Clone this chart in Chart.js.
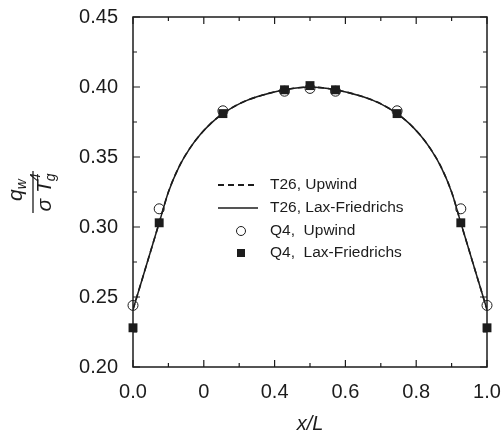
<!DOCTYPE html>
<html>
<head>
<meta charset="utf-8">
<script src="https://cdn.jsdelivr.net/npm/chart.js@4.4.0/dist/chart.umd.min.js"></script>
<style>html,body{margin:0;padding:0;background:#fff}</style>
</head>
<body>
<canvas id="chart" width="501" height="437"></canvas>
<script>
// Q4 solution nodes
var q4X = [0, 0.074, 0.254, 0.428, 0.5, 0.572, 0.746, 0.926, 1.0];
var q4Upwind = [0.244, 0.313, 0.383, 0.397, 0.399, 0.397, 0.383, 0.313, 0.244];
var q4LaxF = [0.228, 0.303, 0.381, 0.398, 0.401, 0.398, 0.381, 0.303, 0.228];

// T26 curves (the two practically coincide)
var t26X = [0, 0.074, 0.10, 0.13, 0.16, 0.19, 0.22, 0.254, 0.30, 0.35, 0.428, 0.5, 0.572, 0.65, 0.70, 0.746, 0.78, 0.81, 0.84, 0.87, 0.90, 0.926, 1.0];
var t26Upwind = [0.241, 0.303, 0.325, 0.343, 0.356, 0.366, 0.374, 0.381, 0.388, 0.393, 0.398, 0.400, 0.398, 0.393, 0.388, 0.381, 0.374, 0.366, 0.356, 0.343, 0.325, 0.303, 0.241];
var t26LaxF = [0.241, 0.303, 0.325, 0.343, 0.356, 0.366, 0.374, 0.381, 0.388, 0.393, 0.398, 0.400, 0.398, 0.393, 0.388, 0.381, 0.374, 0.366, 0.356, 0.343, 0.325, 0.303, 0.241];

var xTickLabels = ['0.0', '0', '0.4', '0.6', '0.8', '1.0'];
var seriesNames = ['T26, Upwind', 'T26, Lax-Friedrichs', 'Q4,  Upwind', 'Q4,  Lax-Friedrichs'];

var INK = '#1c1c1c';
var FONT = 'Arial, "Liberation Sans", Helvetica, sans-serif';

function pts(xs, ys) {
    return xs.map(function(x, i) { return { x: x, y: ys[i] }; });
}

// frame, inward ticks, legend and axis titles
var decor = {
    id: 'decor',
    afterDatasetsDraw: function(chart) {
        var ctx = chart.ctx, a = chart.chartArea;
        var xs = chart.scales.x, ys = chart.scales.y;
        ctx.save();
        ctx.strokeStyle = INK;
        ctx.lineWidth = 1.5;
        ctx.strokeRect(a.left, a.top, a.right - a.left, a.bottom - a.top);

        ctx.lineWidth = 1.2;
        function xTick(v, len) {
            var p = xs.getPixelForValue(v);
            ctx.beginPath();
            ctx.moveTo(p, a.bottom); ctx.lineTo(p, a.bottom - len);
            ctx.moveTo(p, a.top); ctx.lineTo(p, a.top + len);
            ctx.stroke();
        }
        function yTick(v, len) {
            var p = ys.getPixelForValue(v);
            ctx.beginPath();
            ctx.moveTo(a.left, p); ctx.lineTo(a.left + len, p);
            ctx.moveTo(a.right, p); ctx.lineTo(a.right - len, p);
            ctx.stroke();
        }
        xs.ticks.forEach(function(t, i) {
            xTick(t.value, 7);
            if (i < xs.ticks.length - 1) xTick((t.value + xs.ticks[i + 1].value) / 2, 4);
        });
        ys.ticks.forEach(function(t, i) {
            yTick(t.value, 7);
            if (i < ys.ticks.length - 1) yTick((t.value + ys.ticks[i + 1].value) / 2, 4);
        });

        // legend
        var lx0 = 218, lx1 = 258, tx = 270;
        var rows = [185, 208, 231, 253];
        ctx.font = '15.5px ' + FONT;
        ctx.fillStyle = INK;
        ctx.textBaseline = 'middle';
        chart.data.datasets.forEach(function(ds, i) {
            var y = rows[i];
            ctx.save();
            if (ds.showLine) {
                ctx.lineWidth = i === 0 ? 2.2 : 1.3;
                ctx.setLineDash(i === 0 ? [6, 4] : []);
                ctx.beginPath();
                ctx.moveTo(lx0, y); ctx.lineTo(lx1, y);
                ctx.stroke();
            } else if (ds.pointStyle === 'circle') {
                ctx.fillStyle = '#fff';
                ctx.lineWidth = 1;
                ctx.beginPath();
                ctx.arc(241, y, 4.5, 0, Math.PI * 2);
                ctx.fill(); ctx.stroke();
            } else {
                ctx.fillRect(237, y - 4, 8, 8);
            }
            ctx.restore();
            ctx.fillText(ds.label, tx, y);
        });

        // x title
        ctx.font = 'italic 20px ' + FONT;
        ctx.textAlign = 'center';
        ctx.textBaseline = 'middle';
        ctx.fillText('x/L', (a.left + a.right) / 2, 424);

        // y title: q_w / (sigma T_g^4), rotated
        ctx.translate(33, (a.top + a.bottom) / 2);
        ctx.rotate(-Math.PI / 2);
        ctx.textAlign = 'left';
        ctx.textBaseline = 'alphabetic';
        ctx.lineWidth = 1.3;
        ctx.beginPath();
        ctx.moveTo(-21, 0); ctx.lineTo(21, 0);
        ctx.stroke();
        var big = 'italic 21px ' + FONT, small = 'italic 14px ' + FONT;
        ctx.font = big;
        var wq = ctx.measureText('q').width;
        ctx.font = small;
        var ww = ctx.measureText('w').width;
        var sx = -(wq + ww) / 2 + 2;
        ctx.font = big;
        ctx.fillText('q', sx, -11);
        ctx.font = small;
        ctx.fillText('w', sx + wq, -7);
        ctx.font = big;
        var ws = ctx.measureText('\u03c3 ').width, wt = ctx.measureText('T').width;
        ctx.font = small;
        var wg = ctx.measureText('g').width;
        var dx = -(ws + wt + wg) / 2;
        ctx.font = big;
        ctx.fillText('\u03c3 T', dx, 18);
        ctx.font = small;
        ctx.fillText('g', dx + ws + wt - 1, 22);
        ctx.fillText('4', dx + ws + wt - 1, 7);
        ctx.restore();
    }
};

new Chart(document.getElementById('chart'), {
    type: 'scatter',
    data: {
        datasets: [{
            label: seriesNames[0],
            data: pts(t26X, t26Upwind),
            showLine: true,
            borderColor: INK,
            borderWidth: 1.6,
            borderDash: [6, 4],
            cubicInterpolationMode: 'monotone',
            pointRadius: 0,
            order: 3
        }, {
            label: seriesNames[1],
            data: pts(t26X, t26LaxF),
            showLine: true,
            borderColor: INK,
            borderWidth: 1.5,
            cubicInterpolationMode: 'monotone',
            pointRadius: 0,
            order: 2
        }, {
            label: seriesNames[2],
            data: pts(q4X, q4Upwind),
            pointStyle: 'circle',
            pointRadius: 5,
            pointBackgroundColor: '#fff',
            pointBorderColor: INK,
            pointBorderWidth: 1,
            clip: false,
            order: 4
        }, {
            label: seriesNames[3],
            data: pts(q4X, q4LaxF),
            pointStyle: 'rect',
            pointRadius: 6.3,
            pointBackgroundColor: INK,
            pointBorderColor: INK,
            pointBorderWidth: 0,
            clip: false,
            order: 1
        }]
    },
    options: {
        responsive: false,
        animation: false,
        devicePixelRatio: 1,
        layout: { padding: { top: 17, right: 14, left: 0, bottom: 0 } },
        plugins: { legend: { display: false }, tooltip: { enabled: false } },
        scales: {
            x: {
                type: 'linear',
                min: 0, max: 1,
                grid: { display: false, drawTicks: false },
                border: { display: false },
                ticks: {
                    stepSize: 0.2,
                    maxRotation: 0,
                    padding: 13,
                    color: INK,
                    font: { size: 20, family: FONT },
                    callback: function(v, i) { return xTickLabels[i]; }
                },
                afterFit: function(s) {
                    s.height = 70;
                    s.paddingLeft = 0; s.paddingRight = 0;
                }
            },
            y: {
                min: 0.2, max: 0.45,
                grid: { display: false, drawTicks: false },
                border: { display: false },
                ticks: {
                    stepSize: 0.05,
                    padding: 15,
                    color: INK,
                    font: { size: 20, family: FONT },
                    callback: function(v) { return v.toFixed(2); }
                },
                afterFit: function(s) {
                    s.width = 133;
                    s.paddingTop = 0; s.paddingBottom = 0;
                }
            }
        }
    },
    plugins: [decor]
});
</script>
</body>
</html>
